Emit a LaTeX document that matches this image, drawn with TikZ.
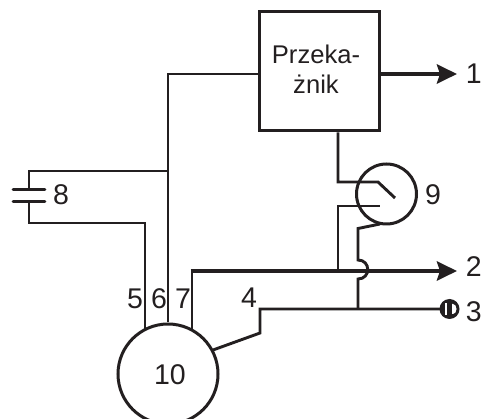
\documentclass[tikz,border=0pt]{standalone}
\usepackage{fontspec}
\setmainfont{Liberation Sans}
\usetikzlibrary{arrows.meta}
\definecolor{ink}{HTML}{231F20}
\tikzset{
  x=1pt,y=-1pt,
  wire/.style={draw=ink,line width=2.9pt,line join=miter},
  heavy/.style={draw=ink,line width=4.6pt},
  tip/.style={-{Stealth[length=20pt,width=19pt,inset=3pt]}},
  ring/.style={circle,draw=ink,line width=3pt,inner sep=0pt,fill=none},
  blockbox/.style={rectangle,draw=ink,line width=3pt,minimum width=120pt,minimum height=119pt,inner sep=0pt},
  txt/.style={text=ink,inner sep=0pt,font=\fontsize{25.6}{30}\selectfont},
  num/.style={text=ink,inner sep=0pt,font=\fontsize{28.5}{32}\selectfont},
}
\begin{document}
\begin{tikzpicture}
\useasboundingbox (0,0) rectangle (482,419);
% main elements
\node[blockbox] (box) at (319,71.5) {};
\node[txt,align=center] (boxtext) at (316,69) {Przeka-\\żnik};
\node[ring,minimum size=100pt] (motor) at (168,374) {};
\node[num] (m10) at (170,375) {10};
\node[ring,minimum size=60pt] (sw) at (386.5,194) {};
% named points
\coordinate (a1) at (457,74);
\coordinate (a2) at (457,271);
\coordinate (a3) at (440,309);
\coordinate (j6) at (168,171);
\coordinate (capT) at (29,189);
\coordinate (capB) at (29,202);
\coordinate (pl1a) at (13,189.5); \coordinate (pl1b) at (45,189.5);
\coordinate (pl2a) at (13,201.5); \coordinate (pl2b) at (45,201.5);
% relay
\draw[heavy,tip] (box.east |- a1) -- (a1);
\draw[wire] (box.west |- 0,74) -- (168,74) -- (motor.north);
\draw[wire] (j6) -- (29,171) -- (capT);
\draw[wire] (capB) -- (29,223) -- (145,223) -- (145,331);
\draw[wire,line cap=round] (pl1a) -- (pl1b);
\draw[wire,line cap=round] (pl2a) -- (pl2b);
% 7 / output 2
\draw[wire] (192,331) -- (192,271);
\draw[heavy,tip] (190.6,271) -- (a2);
% 4 / output 3
\draw[wire] (213,350) -- (260,333) -- (260,309) -- (a3);
% switch 9
\draw[wire] (box.south -| 338,0) -- (338,182) -- (378,182) -- (395,198);
\draw[wire] (338,271) -- (338,206) -- (380,206);
\draw[wire] (380,224) -- (358,228.5) -- (358,260)
   .. controls (371,260) and (371,279) .. (358,279) -- (358,309);
% socket 3
\node[circle,fill=ink,minimum size=20pt,inner sep=0pt] (sock) at (449.5,309) {};
\fill[white] (445,303) rectangle (446.5,315);
\fill[white] (452,304) -- (453,304) arc (90:-90:3.5pt and 5pt) -- (452,314) -- cycle;
% labels
\node[num,anchor=east] (l1) at (482,74) {1};
\node[num,anchor=east] (l2) at (482,267) {2};
\node[num,anchor=east] (l3) at (482,312) {3};
\node[num] (l4) at (249,298) {4};
\node[num] (l5) at (135,299) {5};
\node[num] (l6) at (159,299) {6};
\node[num] (l7) at (183,299) {7};
\node[num] (l8) at (61,195) {8};
\node[num] (l9) at (433,195) {9};
\end{tikzpicture}
\end{document}
